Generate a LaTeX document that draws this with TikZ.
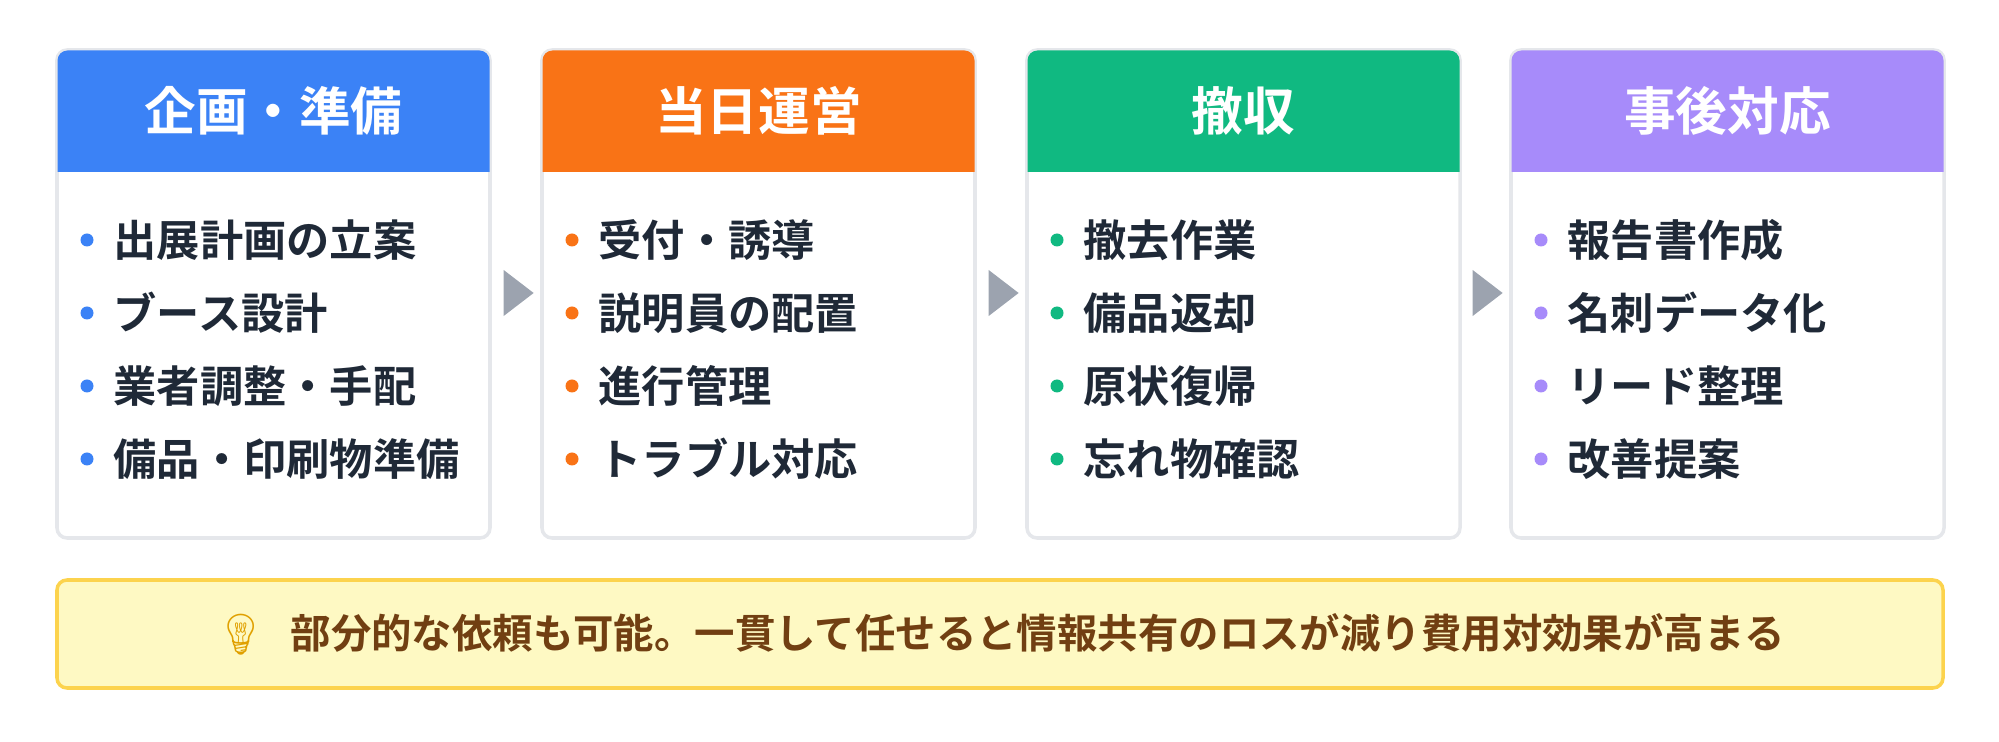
\documentclass[tikz,border=0pt]{standalone}
\usepackage{fontspec}
\setmainfont{Noto Sans CJK JP}[BoldFont={* Bold}]
\newfontfamily\emojifont{Noto Emoji}
\usetikzlibrary{shapes.geometric}
\definecolor{cblue}{HTML}{3B82F6}
\definecolor{corange}{HTML}{F97316}
\definecolor{cgreen}{HTML}{10B981}
\definecolor{cpurple}{HTML}{A78BFA}
\definecolor{ink}{HTML}{1F2937}
\definecolor{edge}{HTML}{E5E7EB}
\definecolor{arrowgray}{HTML}{9CA3AF}
\definecolor{notefill}{HTML}{FEF9C3}
\definecolor{noteedge}{HTML}{FCD34D}
\definecolor{notetext}{HTML}{713F12}
\definecolor{bulb}{HTML}{E0A000}
\tikzset{
  card/.style={fill=white, draw=edge, line width=1pt, rounded corners=0.1cm},
  headtext/.style={text=white, font=\bfseries\fontsize{14.7}{16}\selectfont},
  itemtext/.style={text=ink, font=\bfseries\fontsize{12.3}{13}\selectfont, anchor=west, inner sep=0pt},
  flow/.style={isosceles triangle, fill=arrowgray, minimum height=0.3cm, minimum width=0.36cm, inner sep=0pt, isosceles triangle apex angle=75}
}
\begin{document}
\begin{tikzpicture}
  \useasboundingbox (0,0) rectangle (19.99,-7.42);
  % Cards
  \foreach \i/\x/\col/\title/\items in {
      1/0.57/cblue/企画・準備/{出展計画の立案,ブース設計,業者調整・手配,備品・印刷物準備},
      2/5.42/corange/当日運営/{受付・誘導,説明員の配置,進行管理,トラブル対応},
      3/10.27/cgreen/撤収/{撤去作業,備品返却,原状復帰,忘れ物確認},
      4/15.11/cpurple/事後対応/{報告書作成,名刺データ化,リード整理,改善提案}} {
    \draw[card] (\x,-0.5) rectangle ++(4.33,-4.88);
    \fill[\col] (\x+0.005,-1.72) [rounded corners=0.1cm] -- (\x+0.005,-0.505) -- (\x+4.325,-0.505) [sharp corners] -- (\x+4.325,-1.72) -- cycle;
    \node[headtext] (h\i) at (\x+2.165,-1.11) {\title};
    \foreach \it [count=\k] in \items {
      \fill[\col] (\x+0.3,-2.40-0.73*\k+0.73) circle (0.065);
      \node[itemtext] (t\i\k) at (\x+0.56,-2.40-0.73*\k+0.73) {\it};
    }
  }
  % Flow arrows
  \node[flow] (a1) at (5.15,-2.93) {};
  \node[flow] (a2) at (10.0,-2.93) {};
  \node[flow] (a3) at (14.84,-2.93) {};
  % Note
  \draw[fill=notefill, draw=noteedge, line width=1pt, rounded corners=0.1cm] (0.57,-5.80) rectangle (19.43,-6.88);
  \node[text=notetext, font=\bfseries\fontsize{11.5}{13}\selectfont] (note) at (10.0,-6.34)
    {{\emojifont\color{bulb}💡}\hspace{0.6em}部分的な依頼も可能。一貫して任せると情報共有のロスが減り費用対効果が高まる};
\end{tikzpicture}
\end{document}
